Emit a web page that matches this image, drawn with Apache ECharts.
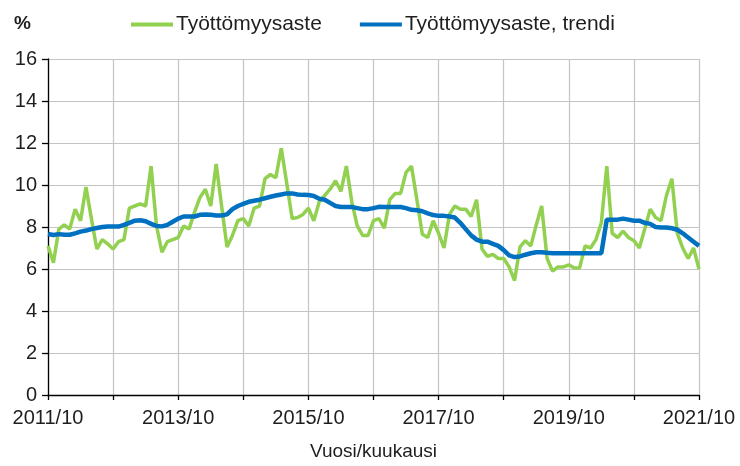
<!DOCTYPE html>
<html>
<head>
<meta charset="utf-8">
<script src="https://cdn.jsdelivr.net/npm/echarts@6/dist/echarts.min.js"></script>
<style>
html,body{margin:0;padding:0;background:#fff;}
#chart{width:740px;height:466px;}
</style>
</head>
<body>
<div id="chart"></div>
<script>
// Months 2011/10 .. 2021/10 (121 monthly points)
const startYear = 2011, startMonth = 10, monthCount = 121;
const categories = [];
for (let i = 0; i < monthCount; i++) {
  const m = startMonth - 1 + i;
  const y = startYear + Math.floor(m / 12);
  const mm = (m % 12) + 1;
  categories.push(y + '/' + (mm < 10 ? '0' + mm : mm));
}
const tickLabels = ['2011/10', '2013/10', '2015/10', '2017/10', '2019/10', '2021/10'];
const yTicks = [0, 2, 4, 6, 8, 10, 12, 14, 16];

const seriesNames = ['Työttömyysaste', 'Työttömyysaste, trendi'];

const rate = [
  7.1, 6.3, 7.9, 8.1, 7.9, 8.85, 8.3, 9.9, 8.4, 6.95, 7.4, 7.2,
  6.95, 7.3, 7.4, 8.9, 9.0, 9.1, 9.0, 10.9, 8.05, 6.8, 7.3, 7.4,
  7.5, 8.05, 7.9, 8.7, 9.4, 9.8, 9.0, 11.0, 9.0, 7.05, 7.6, 8.3,
  8.4, 8.05, 8.9, 9.0, 10.3, 10.5, 10.35, 11.75, 10.1, 8.4, 8.45, 8.6,
  8.9, 8.3, 9.2, 9.5, 9.8, 10.2, 9.7, 10.9, 9.2, 8.05, 7.6, 7.6,
  8.3, 8.4, 7.95, 9.3, 9.6, 9.6, 10.6, 10.9, 9.3, 7.65, 7.5, 8.3,
  7.7, 7.0, 8.6, 9.0, 8.85, 8.85, 8.5, 9.3, 6.95, 6.6, 6.7, 6.5,
  6.5, 6.1, 5.45, 7.05, 7.35, 7.1, 8.1, 9.0, 6.5, 5.9, 6.1, 6.1,
  6.2, 6.05, 6.05, 7.1, 7.0, 7.4, 8.2, 10.9, 7.7, 7.5, 7.8, 7.5,
  7.35, 7.0, 7.9, 8.85, 8.45, 8.3, 9.5, 10.3, 7.7, 7.0, 6.5, 7.0,
  6.0
];

const trend = [
  7.67, 7.62, 7.66, 7.63, 7.63, 7.7, 7.78, 7.83, 7.9, 7.95, 8.0, 8.02,
  8.02, 8.02, 8.1, 8.2, 8.3, 8.32, 8.27, 8.15, 8.05, 8.03, 8.1, 8.25,
  8.4, 8.5, 8.5, 8.5, 8.58, 8.6, 8.58, 8.55, 8.55, 8.6, 8.85, 9.0,
  9.1, 9.2, 9.25, 9.3, 9.37, 9.44, 9.5, 9.55, 9.6, 9.6, 9.55, 9.53,
  9.52, 9.48, 9.35, 9.3, 9.15, 9.0, 8.95, 8.95, 8.95, 8.9, 8.85, 8.85,
  8.9, 8.96, 8.95, 8.95, 8.95, 8.95, 8.9, 8.82, 8.8, 8.75, 8.65, 8.57,
  8.53, 8.53, 8.5, 8.45, 8.2, 7.9, 7.6, 7.4, 7.3, 7.3, 7.2, 7.1,
  6.9, 6.65, 6.57, 6.6, 6.68, 6.75, 6.8, 6.8, 6.77, 6.75, 6.75, 6.75,
  6.75, 6.75, 6.75, 6.75, 6.75, 6.75, 6.75, 8.35, 8.35, 8.35, 8.4, 8.35,
  8.3, 8.3, 8.2, 8.15, 8.0, 7.98, 7.98, 7.94, 7.87, 7.7, 7.5, 7.3,
  7.1
];

const FONT = '"Liberation Sans", Arial, sans-serif';
const TXT = '#1e1e1e';

const chart = echarts.init(document.getElementById('chart'), null, {renderer: 'canvas'});
chart.setOption({
  animation: false,
  backgroundColor: '#ffffff',
  textStyle: {fontFamily: FONT},
  title: {
    text: '%',
    left: 9,
    top: 9,
    textStyle: {fontFamily: FONT, fontSize: 19, fontWeight: 'bold', color: TXT}
  },
  legend: {
    left: 126,
    top: 9,
    icon: 'rect',
    itemWidth: 42,
    itemHeight: 4,
    itemGap: 38,
    textStyle: {fontFamily: FONT, fontSize: 21, color: TXT, padding: [0, 0, 0, -2]},
    data: seriesNames
  },
  grid: {left: 48, right: 41, top: 59, bottom: 69, containLabel: false},
  xAxis: {
    type: 'category',
    data: categories,
    boundaryGap: false,
    name: 'Vuosi/kuukausi',
    nameLocation: 'middle',
    nameGap: 47,
    nameTextStyle: {fontFamily: FONT, fontSize: 19, color: TXT},
    axisLine: {show: true, lineStyle: {color: '#000', width: 1.3}},
    axisTick: {show: true, interval: 11, length: 5, lineStyle: {color: '#000', width: 1.3}},
    axisLabel: {
      interval: function (idx, val) { return tickLabels.indexOf(val) >= 0; },
      margin: 13,
      fontFamily: FONT, fontSize: 20, color: TXT,
      showMinLabel: true, showMaxLabel: true
    },
    splitLine: {show: true, interval: 11, lineStyle: {color: '#c4c4c4', width: 1.2}}
  },
  yAxis: {
    type: 'value',
    min: yTicks[0],
    max: yTicks[yTicks.length - 1],
    interval: 2,
    axisLine: {show: true, lineStyle: {color: '#000', width: 1.3}},
    axisTick: {show: true, length: 6, lineStyle: {color: '#000', width: 1.3}},
    axisLabel: {margin: 11, fontFamily: FONT, fontSize: 20, color: TXT},
    splitLine: {show: true, lineStyle: {color: '#c4c4c4', width: 1.2}}
  },
  series: [
    {
      name: seriesNames[0],
      type: 'line',
      data: rate,
      symbol: 'none',
      lineStyle: {color: '#92D050', width: 3.5},
      itemStyle: {color: '#92D050'},
      z: 2
    },
    {
      name: seriesNames[1],
      type: 'line',
      data: trend,
      symbol: 'none',
      lineStyle: {color: '#0070C0', width: 4.5},
      itemStyle: {color: '#0070C0'},
      z: 3
    }
  ]
});
</script>
</body>
</html>
